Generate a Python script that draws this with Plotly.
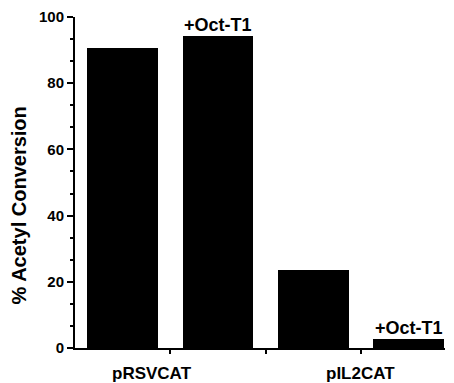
import plotly.graph_objects as go

# Data
bar_positions = [1, 2, 3, 4]
values = [90.5, 94.3, 23.7, 2.8]
group_labels = ["pRSVCAT", "pIL2CAT"]
group_label_pos = [1.31, 3.49]
annot_text = "+Oct-T1"
annot_bars = [1, 3]  # indices of bars carrying the +Oct-T1 label
y_tickvals = [0, 20, 40, 60, 80, 100]
y_title = "% Acetyl Conversion"

FONT = "Liberation Sans, Arial, Helvetica, sans-serif"

fig = go.Figure()
fig.add_trace(go.Bar(
    x=bar_positions, y=values, width=0.74,
    marker=dict(color="black", line=dict(width=0)),
    showlegend=False, hoverinfo="skip",
))

annotations = []
for i in annot_bars:
    annotations.append(dict(
        x=bar_positions[i], y=values[i], xref="x", yref="y",
        text="<b>%s</b>" % annot_text, showarrow=False,
        yanchor="bottom", yshift=-1,
        font=dict(family=FONT, size=18, color="black"),
    ))
for lab, pos in zip(group_labels, group_label_pos):
    annotations.append(dict(
        x=pos, y=0, xref="x", yref="paper",
        text="<b>%s</b>" % lab, showarrow=False,
        yanchor="top", yshift=-14,
        font=dict(family=FONT, size=17, color="black"),
    ))
annotations.append(dict(
    x=-0.152, y=0.43, xref="paper", yref="paper",
    xanchor="center", yanchor="middle",
    text="<b>%s</b>" % y_title, showarrow=False, textangle=-90,
    font=dict(family=FONT, size=20, color="black"),
))

fig.update_layout(
    width=454, height=383,
    margin=dict(l=75, r=9, t=17, b=35),
    plot_bgcolor="white", paper_bgcolor="white",
    bargap=0,
    annotations=annotations,
    xaxis=dict(
        range=[0.5, 4.38], showgrid=False, zeroline=False,
        showline=True, linecolor="black", linewidth=2,
        tickmode="array", tickvals=[1.5, 2.5, 3.5], ticktext=["", "", ""],
        ticks="outside", ticklen=4, tickwidth=2, tickcolor="black",
    ),
    yaxis=dict(
        range=[0, 100], showgrid=False, zeroline=False,
        showline=True, linecolor="black", linewidth=2,
        tickmode="array", tickvals=y_tickvals,
        ticktext=["<b>%d</b>" % v for v in y_tickvals],
        ticks="outside", ticklen=6, tickwidth=2, tickcolor="black",
        tickfont=dict(family=FONT, size=15, color="black"),
        minor=dict(tickmode="array",
                   tickvals=[v + d for v in y_tickvals[:-1] for d in (20/3, 40/3)],
                   ticks="outside", ticklen=3, tickwidth=2, tickcolor="black"),
    ),
)

fig.write_html("out.html", config={"displayModeBar": False},
               post_script="document.body.style.margin='0';document.body.style.overflow='hidden';")
